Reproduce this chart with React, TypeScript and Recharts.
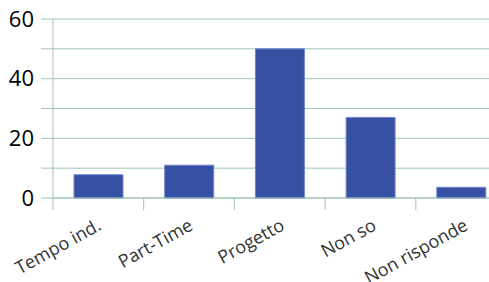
import React from 'react';
import { BarChart, Bar, XAxis, YAxis, CartesianGrid } from 'recharts';

const categories = ['Tempo ind.', 'Part-Time', 'Progetto', 'Non so', 'Non risponde'];
const values = [7.8, 11, 50, 27, 3.6];
const yTicks = [0, 10, 20, 30, 40, 50, 60];

const data = categories.map((name, i) => ({ name, value: values[i] }));

const GRID = '#9dc4b7';
const CHART_W = 520;
const CHART_H = 282;
const LEFT = 53;
const RIGHT = 13.5;
const band = (CHART_W - LEFT - RIGHT) / categories.length;

const CategoryTick = (props: any) => {
  const { x, y, payload, index } = props;
  const bx = x - band / 2;
  const tx = x + 4 + index * 1;
  const ty = y + 31;
  return (
    <g>
      <line x1={bx} y1={y} x2={bx} y2={y + 12} stroke={GRID} strokeWidth={1} />
      <text
        x={tx}
        y={ty}
        textAnchor="end"
        fill="#333"
        fontSize={18}
        fontFamily="'Open Sans', sans-serif"
        transform={`rotate(-29, ${tx}, ${ty})`}
      >
        {payload.value}
      </text>
    </g>
  );
};

const App: React.FC = () => {
  return (
    <div style={{ position: 'absolute', left: 0, top: 0, width: 489, height: 282, overflow: 'hidden' }}>
      <BarChart
        width={CHART_W}
        height={CHART_H}
        data={data}
        margin={{ top: 19, right: RIGHT, left: 0, bottom: 0 }}
        barCategoryGap={0}
      >
        <CartesianGrid horizontal vertical={false} stroke={GRID} strokeDasharray="" />
        <YAxis
          width={LEFT}
          domain={[0, 60]}
          ticks={yTicks}
          interval={0}
          axisLine={{ stroke: GRID }}
          tickLine={{ stroke: GRID }}
          tickSize={12}
          tickMargin={7}
          tickFormatter={(v: number) => (v % 20 === 0 ? String(v) : '')}
          tick={{ fill: '#000', fontSize: 22, fontFamily: "'Open Sans', sans-serif" }}
        />
        <XAxis
          dataKey="name"
          height={84}
          interval={0}
          axisLine={{ stroke: GRID }}
          tickLine={false}
          tickSize={0}
          tickMargin={0}
          tick={<CategoryTick />}
        />
        <Bar dataKey="value" fill="#3651a3" stroke="#6d88cc" strokeWidth={1} barSize={49} isAnimationActive={false} />
      </BarChart>
    </div>
  );
};

export default App;
